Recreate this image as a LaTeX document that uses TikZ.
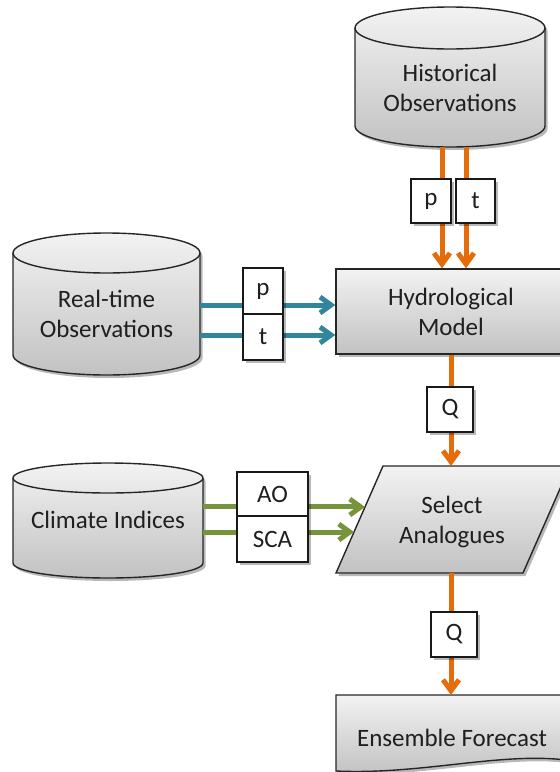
\documentclass[tikz,border=0pt]{standalone}
\usepackage{fontspec}
\setmainfont{Carlito}
\usetikzlibrary{arrows.meta,shadows,calc}
\definecolor{orng}{RGB}{228,108,10}
\definecolor{tealb}{RGB}{49,133,156}
\definecolor{olivegr}{RGB}{119,147,60}
\newcommand\mycyl[3]{%
  \path[shapebody] ([yshift=-#3]#1.north west) -- ([yshift=#3]#1.south west)
    arc[start angle=180,end angle=360,x radius=#2,y radius=#3]
    -- ([yshift=-#3]#1.north east)
    arc[start angle=0,end angle=180,x radius=#2,y radius=#3] -- cycle;
  \draw[outline] ([yshift=-#3]#1.north west)
    arc[start angle=180,end angle=360,x radius=#2,y radius=#3];
}
\tikzset{
  myshadow/.style={drop shadow={shadow xshift=2.5pt,shadow yshift=-3pt,opacity=0.28,fill=black}},
  shapebody/.style={draw=black!85,line width=1.4pt,top color=black!5,bottom color=black!24,myshadow},
  outline/.style={draw=black!85,line width=1.4pt},
  anchorbox/.style={rectangle,inner sep=0pt,outer sep=0pt},
  txt/.style={align=center,text=black!88},
  lbl/.style={draw=black!90,line width=1.2pt,fill=white,inner sep=0pt,text=black!88,myshadow},
  tipstyle/.style={-{Straight Barb[length=11pt,width=16pt]}},
  oarrow/.style={draw=orng,line width=5pt,tipstyle},
  barrow/.style={draw=tealb,line width=5pt,tipstyle},
  garrow/.style={draw=olivegr,line width=5pt,tipstyle},
}
\begin{document}
\begin{tikzpicture}[x=1pt,y=-1pt,every node/.style={font=\fontsize{25}{30}\selectfont}]
\useasboundingbox (0,0) rectangle (560,772);

% Historical Observations
\node[anchorbox,minimum width=190pt,minimum height=140pt] (hist) at (450,77) {};
\mycyl{hist}{95pt}{21pt}
\node[txt] (histtext) at ([yshift=-11pt]hist.center) {Historical\\Observations};

% Real-time Observations
\node[anchorbox,minimum width=187pt,minimum height=142pt] (rt) at (106.5,304) {};
\mycyl{rt}{93.5pt}{20pt}
\node[txt] (rttext) at ([yshift=-10pt]rt.center) {Real-time\\Observations};

% Climate Indices
\node[anchorbox,minimum width=190pt,minimum height=115pt] (clim) at (108,520.5) {};
\mycyl{clim}{95pt}{15pt}
\node[txt] (climtext) at ([yshift=1pt]clim.center) {Climate Indices};

% Hydrological Model
\node[shapebody,txt,rectangle,minimum width=230pt,minimum height=85pt,inner sep=0pt] (hyd) at (451,311.5) {Hydrological\\Model};

% Select Analogues
\node[anchorbox,minimum width=234pt,minimum height=107pt] (sel) at (453,519.5) {};
\path[shapebody] ([xshift=47pt]sel.north west) -- (sel.north east)
  -- ([xshift=-47pt]sel.south east) -- (sel.south west) -- cycle;
\node[txt] (seltext) at (452,522) {Select\\Analogues};

% Ensemble Forecast
\node[anchorbox,minimum width=230pt,minimum height=76pt] (ens) at (451,733) {};
\path[shapebody] (ens.north west) -- (ens.north east) -- ([yshift=11pt]ens.south east)
  .. controls (500,752) and (420,775) .. (ens.south west) -- cycle;
\node[txt,anchor=base] (enstext) at (452,746) {Ensemble Forecast};

% connectors
\draw[oarrow] ([xshift=-8pt]hist.south) -- ([xshift=-9pt]hyd.north);
\draw[oarrow] ([xshift=16pt]hist.south) -- ([xshift=15pt]hyd.north);

\coordinate (rtp) at ([yshift=-1pt]rt.east);
\coordinate (rtt) at ([yshift=-31pt]rt.east);
\draw[barrow] (rtp) -- (rtp -| hyd.west);
\draw[barrow] (rtt) -- (rtt -| hyd.west);

\coordinate (selL1) at ($(sel.south west)!0.617!([xshift=47pt]sel.north west)$);
\coordinate (selL2) at ($(sel.south west)!0.383!([xshift=47pt]sel.north west)$);
\draw[garrow] (clim.east |- selL1) -- (selL1);
\draw[garrow] (clim.east |- selL2) -- (selL2);

\draw[oarrow] (hyd.south) -- (hyd.south |- sel.north);
\draw[oarrow] (ens.north |- sel.south) -- (ens.north);

% labels
\node[lbl,minimum width=40pt,minimum height=44pt] (lp1) at (431,201) {p};
\node[lbl,minimum width=39pt,minimum height=44pt] (lt1) at (475.5,201) {t};
\node[lbl,minimum width=40pt,minimum height=46pt] (lp2) at (263,291) {p};
\node[lbl,minimum width=40pt,minimum height=46pt] (lt2) at (263,337) {t};
\node[lbl,minimum width=46pt,minimum height=45pt] (lq1) at (450,409.5) {Q};
\node[lbl,minimum width=71pt,minimum height=44pt] (lao) at (272.5,494) {AO};
\node[lbl,minimum width=71pt,minimum height=46pt] (lsca) at (272.5,539) {SCA};
\node[lbl,minimum width=46pt,minimum height=45pt] (lq2) at (454,634.5) {Q};
\end{tikzpicture}
\end{document}
